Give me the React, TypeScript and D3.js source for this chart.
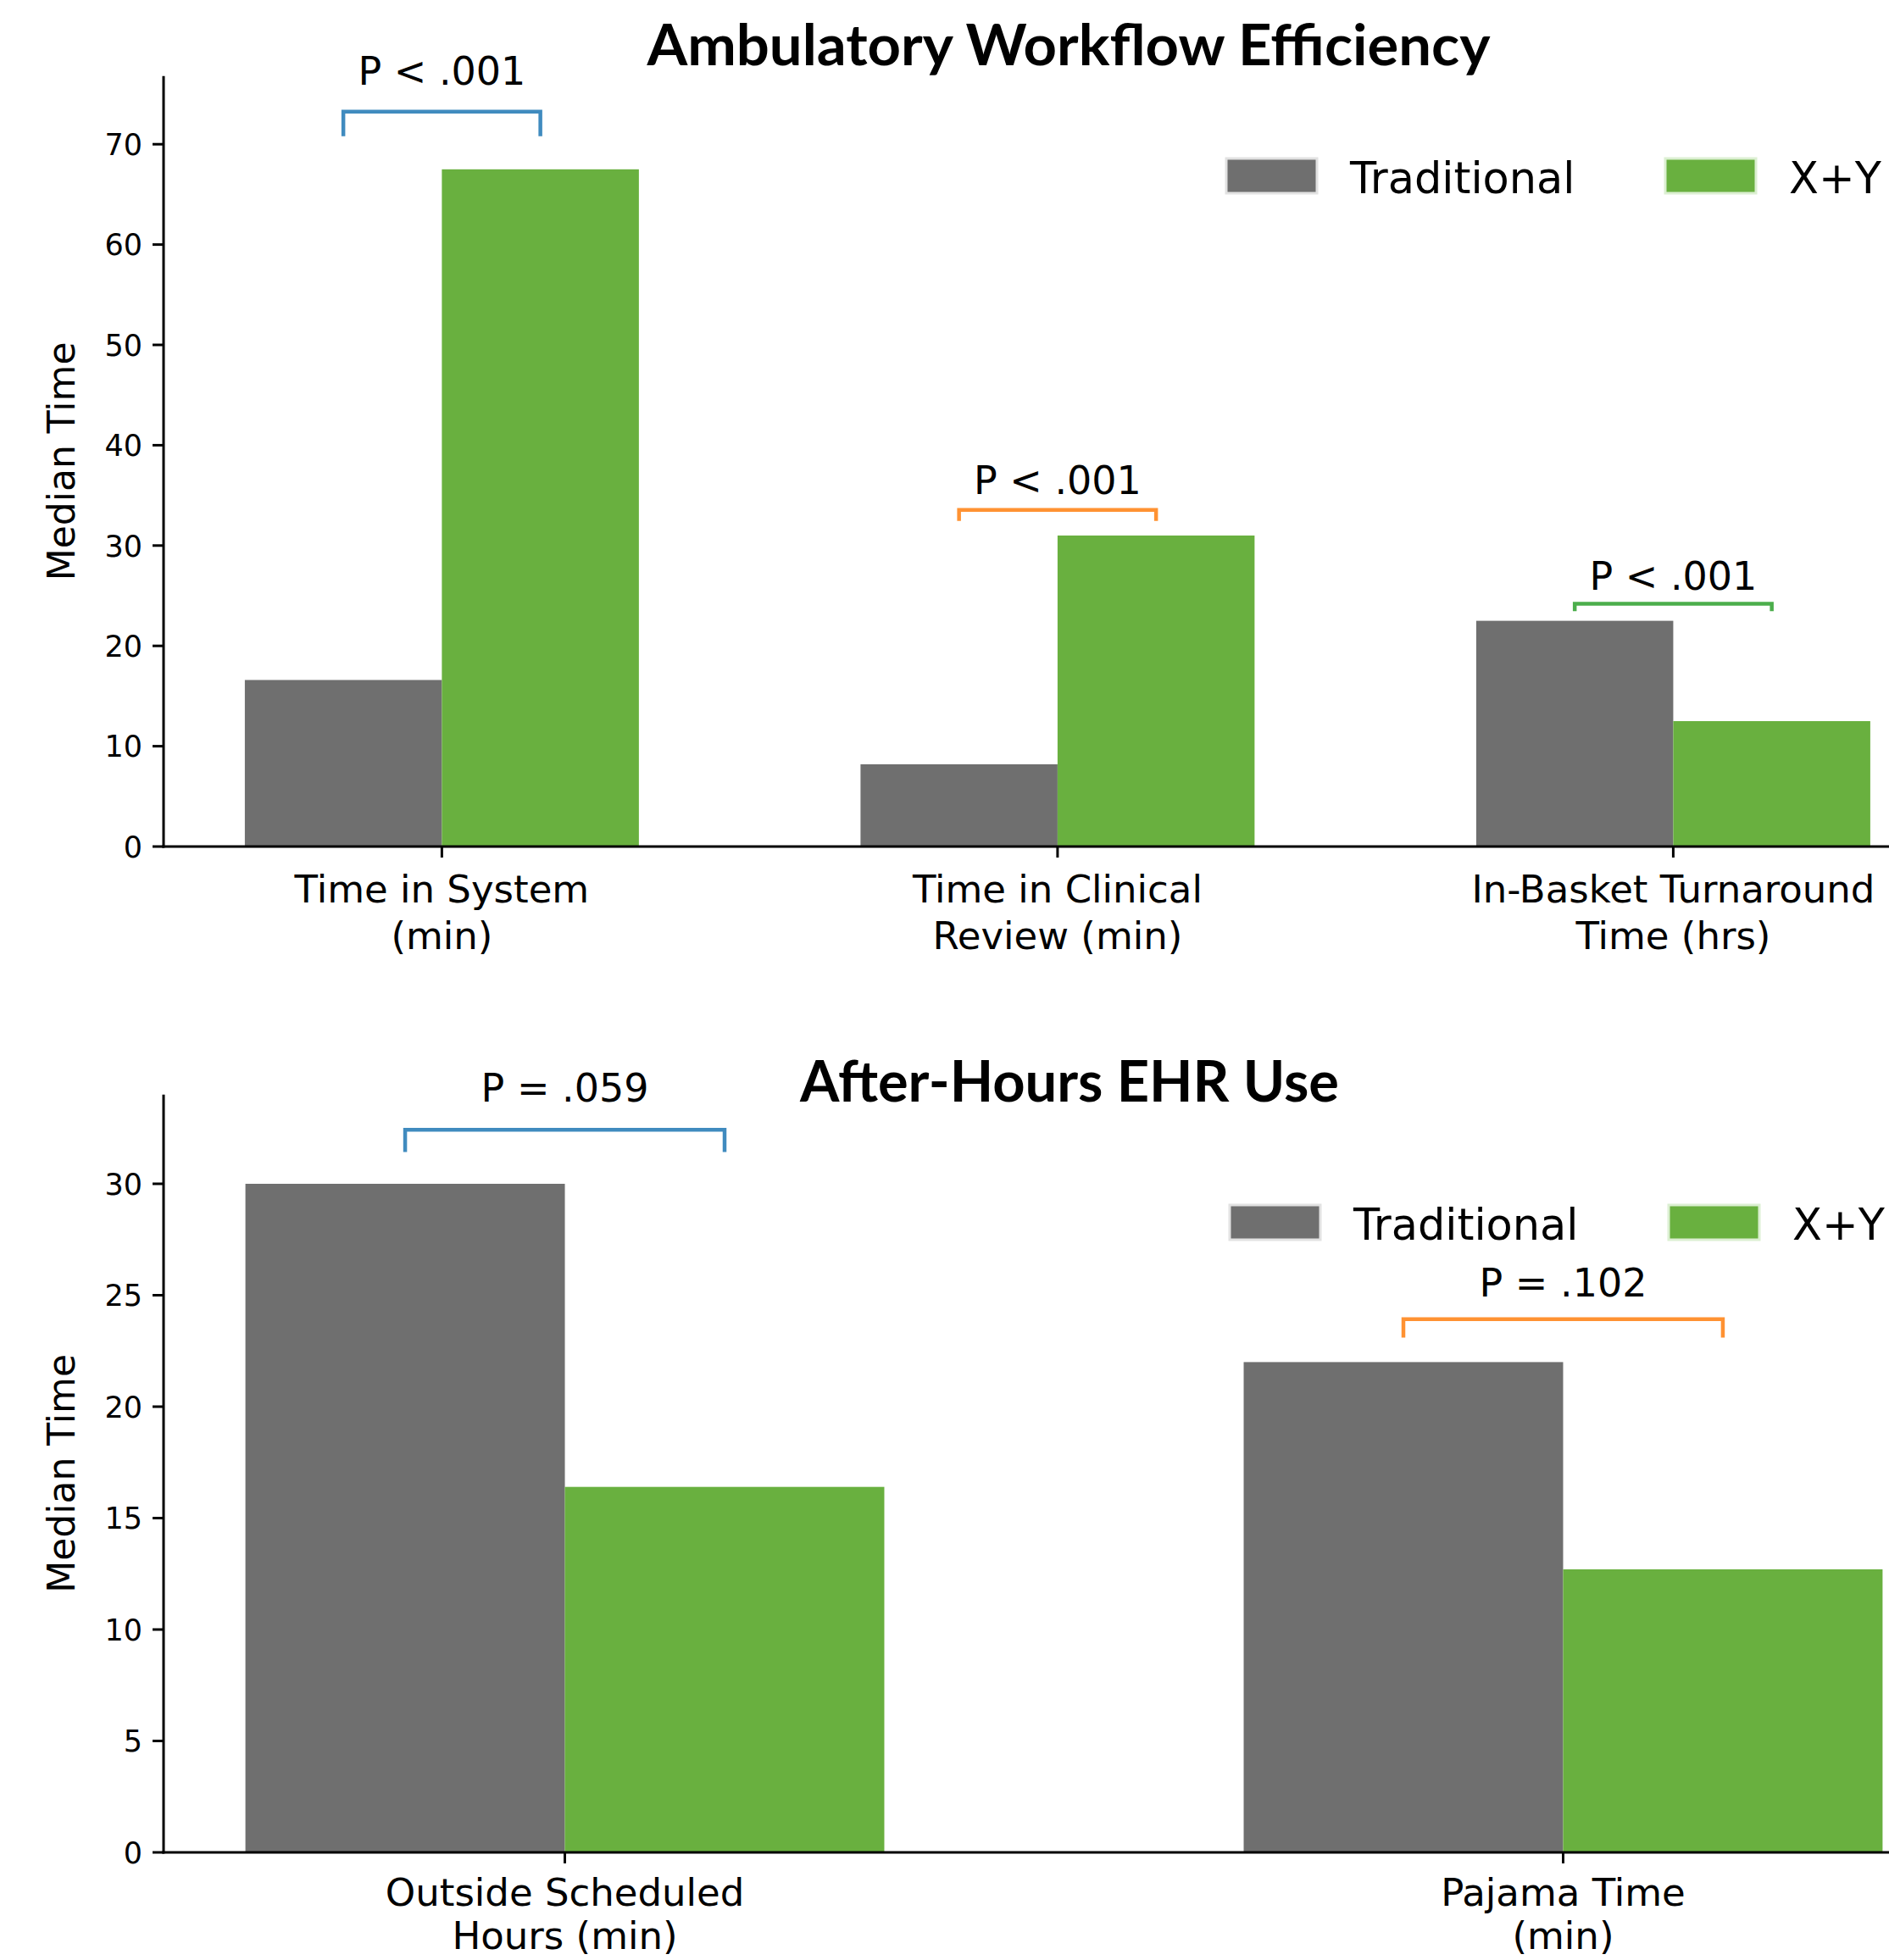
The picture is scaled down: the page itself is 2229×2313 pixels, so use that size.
import React, { useEffect } from "react";
import * as d3 from "d3";

const WIDTH = 2229;
const HEIGHT = 2313;

const seriesNames = ["Traditional", "X+Y"];
const seriesColors = ["#6f6f6f", "#69b03f"];
const seriesEdges = ["#e2e2e2", "#dcefd2"];

// Panel 1: Ambulatory Workflow Efficiency
const workflowTitle = "Ambulatory Workflow Efficiency";
const workflowCategories = [
  ["Time in System", "(min)"],
  ["Time in Clinical", "Review (min)"],
  ["In-Basket Turnaround", "Time (hrs)"],
];
const workflowTraditional = [16.6, 8.2, 22.5];
const workflowXY = [67.5, 31.0, 12.5];
const workflowTicks = [0, 10, 20, 30, 40, 50, 60, 70];
const workflowPLabels = ["P < .001", "P < .001", "P < .001"];
const workflowBracketLow = [70.8, 32.45, 23.45];
const workflowBracketHigh = [73.25, 33.56, 24.2];
const workflowLabelY = [75.9, 35.14, 25.57];
const workflowBracketColors = ["#408bbf", "#ff9232", "#4cae4c"];

// Panel 2: After-Hours EHR Use
const afterTitle = "After-Hours EHR Use";
const afterCategories = [
  ["Outside Scheduled", "Hours (min)"],
  ["Pajama Time", "(min)"],
];
const afterTraditional = [30.0, 22.0];
const afterXY = [16.4, 12.7];
const afterTicks = [0, 5, 10, 15, 20, 25, 30];
const afterPLabels = ["P = .059", "P = .102"];
const afterBracketLow = [31.43, 23.1];
const afterBracketHigh = [32.42, 23.93];
const afterLabelY = [33.69, 24.94];
const afterBracketColors = ["#408bbf", "#ff9232"];

const BAR_W = 0.32;
const FONT = "'DejaVu Sans', sans-serif";

type PanelProps = {
  title: string;
  titleX: number;
  titleY: number;
  titleWidth: number;
  categories: string[][];
  trad: number[];
  xy: number[];
  ticks: number[];
  pLabels: string[];
  low: number[];
  high: number[];
  labelY: number[];
  bColors: string[];
  xDomain: [number, number];
  xRange: [number, number];
  yDomain: [number, number];
  yRange: [number, number];
  legendX: number;
  legendY: number;
  labelOffset: number;
  lineGap: number;
};

function Panel(p: PanelProps) {
  const x = d3.scaleLinear().domain(p.xDomain).range(p.xRange);
  const y = d3.scaleLinear().domain(p.yDomain).range(p.yRange);
  const x0 = p.xRange[0];
  const y0 = y(0);
  const series = [p.trad, p.xy];
  const offsets = [-BAR_W, 0];
  const yMid = (p.yRange[0] + p.yRange[1]) / 2;
  return (
    <g>
      {series.map((vals, s) =>
        vals.map((v, i) => (
          <rect
            key={`b${s}-${i}`}
            x={x(i + offsets[s])}
            width={x(i + offsets[s] + BAR_W) - x(i + offsets[s])}
            y={y(v)}
            height={y(0) - y(v)}
            fill={seriesColors[s]}
          />
        ))
      )}
      <line x1={x0} x2={x0} y1={p.yRange[1]} y2={y0 + 1.5} stroke="#000" strokeWidth={3} />
      <line x1={x0 - 1.5} x2={p.xRange[1]} y1={y0} y2={y0} stroke="#000" strokeWidth={3} />
      {p.ticks.map((t) => (
        <g key={`yt${t}`}>
          <line x1={x0 - 13} x2={x0} y1={y(t)} y2={y(t)} stroke="#000" strokeWidth={3} />
          <text
            x={x0 - 25}
            y={y(t) + 12.7}
            textAnchor="end"
            fontFamily={FONT}
            fontSize={35}
            fill="#000"
          >
            {t}
          </text>
        </g>
      ))}
      {p.categories.map((lines, i) => (
        <g key={`xt${i}`}>
          <line x1={x(i)} x2={x(i)} y1={y0} y2={y0 + 13} stroke="#000" strokeWidth={3} />
          {lines.map((ln, k) => (
            <text
              key={k}
              x={x(i)}
              y={y0 + p.labelOffset + k * p.lineGap}
              textAnchor="middle"
              fontFamily={FONT}
              fontSize={45}
              fill="#000"
            >
              {ln}
            </text>
          ))}
        </g>
      ))}
      <text
        transform={`translate(88,${yMid}) rotate(-90)`}
        textAnchor="middle"
        fontFamily={FONT}
        fontSize={44}
        fill="#000"
      >
        Median Time
      </text>
      {p.pLabels.map((lab, i) => {
        const xa = x(i - BAR_W / 2);
        const xb = x(i + BAR_W / 2);
        const path = d3.path();
        path.moveTo(xa, y(p.low[i]));
        path.lineTo(xa, y(p.high[i]));
        path.lineTo(xb, y(p.high[i]));
        path.lineTo(xb, y(p.low[i]));
        return (
          <g key={`br${i}`}>
            <path
              d={path.toString()}
              fill="none"
              stroke={p.bColors[i]}
              strokeWidth={4.5}
              strokeLinejoin="miter"
            />
            <text
              x={x(i)}
              y={y(p.labelY[i])}
              textAnchor="middle"
              fontFamily={FONT}
              fontSize={46}
              fill="#000"
            >
              {lab}
            </text>
          </g>
        );
      })}
      {seriesNames.map((name, s) => (
        <g key={`lg${s}`} transform={`translate(${p.legendX + s * 518},${p.legendY})`}>
          <rect
            x={0}
            y={0}
            width={107}
            height={41}
            fill={seriesColors[s]}
            stroke={seriesEdges[s]}
            strokeWidth={3}
          />
          <text x={146} y={41} fontFamily={FONT} fontSize={51} fill="#000">
            {name}
          </text>
        </g>
      ))}
      <text
        x={p.titleX}
        y={p.titleY}
        textAnchor="middle"
        fontFamily="Lato, 'Open Sans', sans-serif"
        fontWeight={700}
        fontSize={66}
        textLength={p.titleWidth}
        lengthAdjust="spacingAndGlyphs"
        fill="#000"
      >
        {p.title}
      </text>
    </g>
  );
}

export default function App() {
  useEffect(() => {
    document.body.style.margin = "0";
  }, []);
  return (
    <svg
      width={WIDTH}
      height={HEIGHT}
      viewBox={`0 0 ${WIDTH} ${HEIGHT}`}
      style={{ display: "block", background: "#fff" }}
    >
      <rect x={0} y={0} width={WIDTH} height={HEIGHT} fill="#fff" />
      <Panel
        title={workflowTitle}
        titleX={1261}
        titleY={77}
        titleWidth={995}
        categories={workflowCategories}
        trad={workflowTraditional}
        xy={workflowXY}
        ticks={workflowTicks}
        pLabels={workflowPLabels}
        low={workflowBracketLow}
        high={workflowBracketHigh}
        labelY={workflowLabelY}
        bColors={workflowBracketColors}
        xDomain={[-0.452, 2.452]}
        xRange={[193, 2302.8]}
        yDomain={[0, 76.8]}
        yRange={[999, 89.7]}
        legendX={1447}
        legendY={187}
        labelOffset={66}
        lineGap={55}
      />
      <Panel
        title={afterTitle}
        titleX={1262}
        titleY={1300}
        titleWidth={636}
        categories={afterCategories}
        trad={afterTraditional}
        xy={afterXY}
        ticks={afterTicks}
        pLabels={afterPLabels}
        low={afterBracketLow}
        high={afterBracketHigh}
        labelY={afterLabelY}
        bColors={afterBracketColors}
        xDomain={[-0.402, 1.402]}
        xRange={[193, 2318]}
        yDomain={[0, 34.0]}
        yRange={[2186, 1291.8]}
        legendX={1451}
        legendY={1422}
        labelOffset={63}
        lineGap={51}
      />
    </svg>
  );
}
